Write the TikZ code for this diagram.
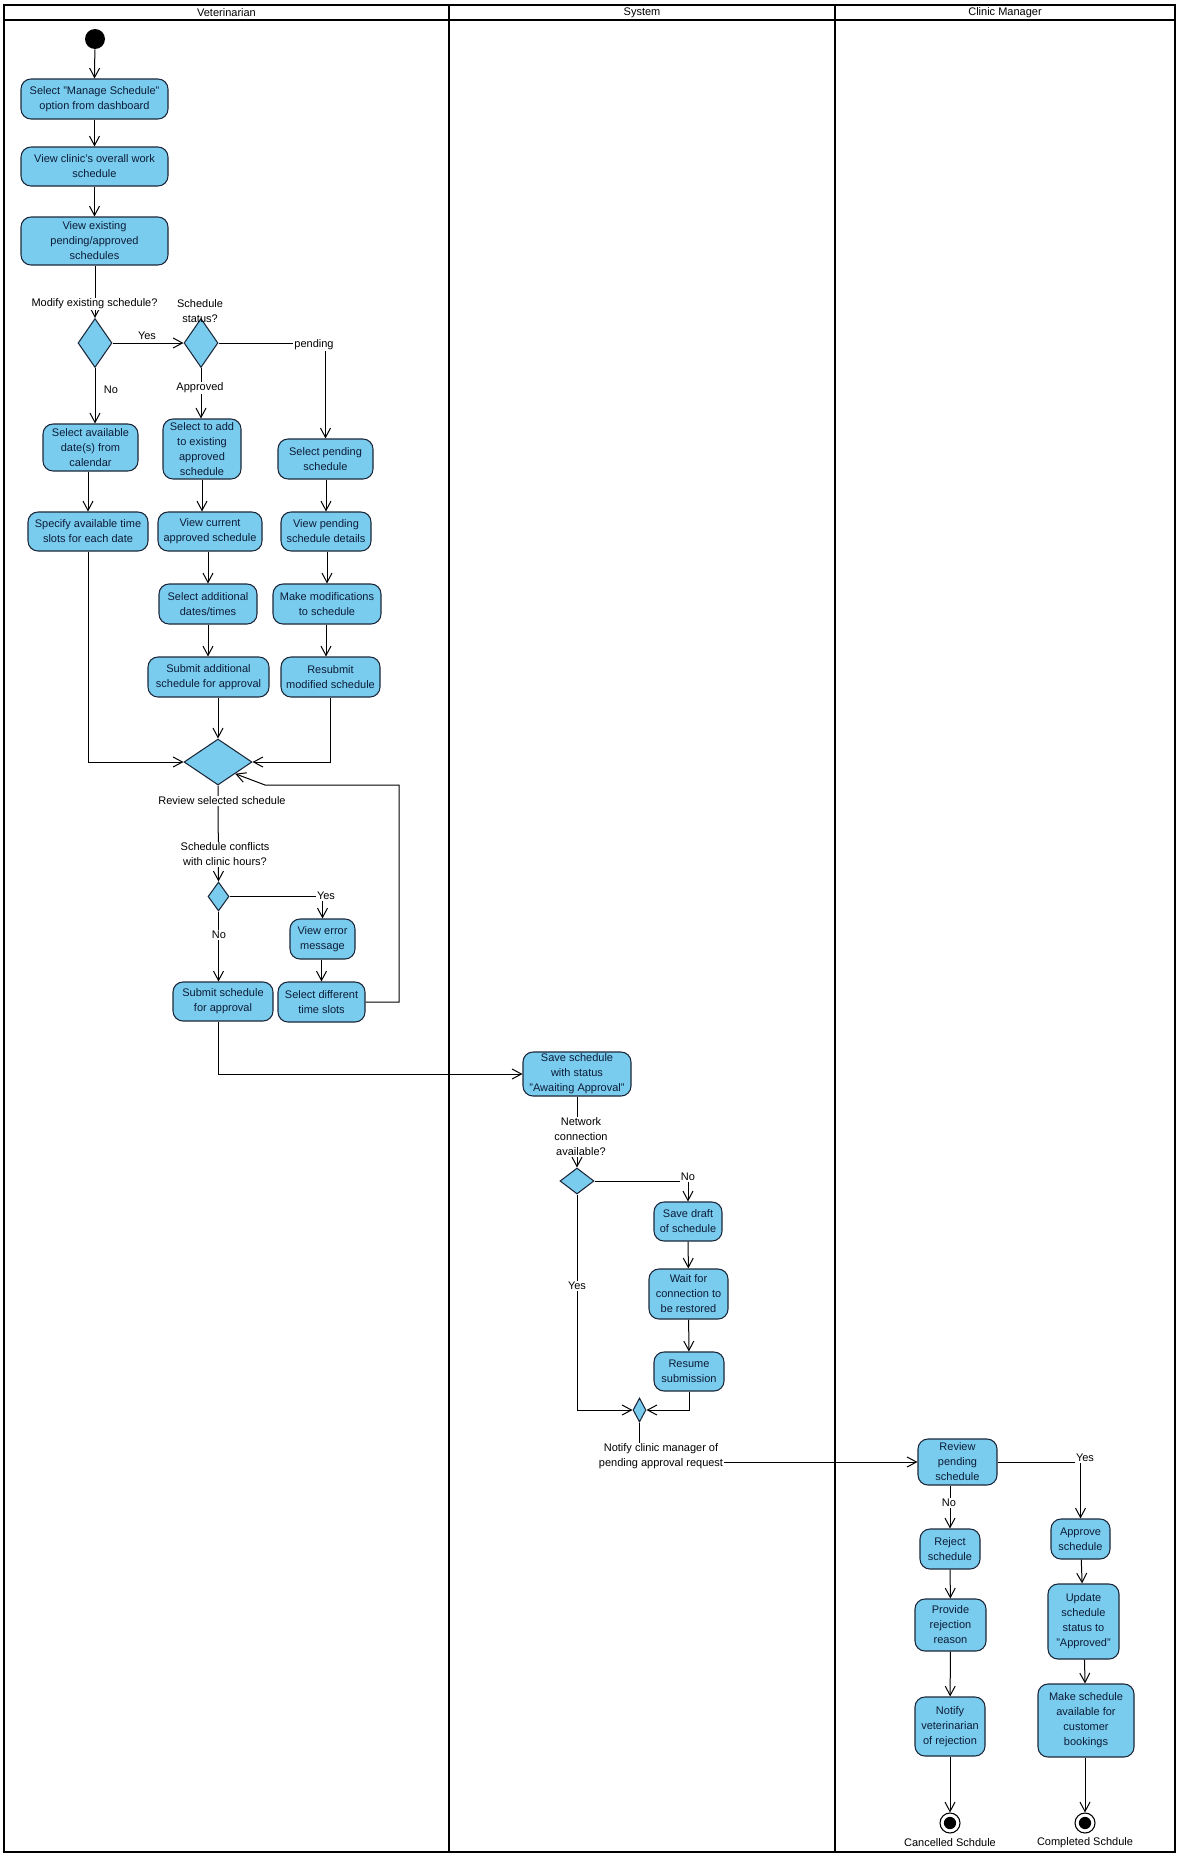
\documentclass[tikz,border=0pt]{standalone}
\usepackage{fontspec}
\setmainfont{Liberation Sans}
\usetikzlibrary{shapes.geometric,arrows.meta,calc}
\definecolor{actfill}{RGB}{122,204,238}
\definecolor{actdraw}{RGB}{28,40,58}
\definecolor{acttext}{RGB}{12,28,55}

\begin{document}
\begin{tikzpicture}[x=0.75pt,y=-0.75pt,
  every node/.style={font=\fontsize{8.25pt}{11.25pt}\selectfont},
  act/.style={draw=actdraw, fill=actfill, line width=0.8pt, rounded corners=7.5pt,
    align=center, inner sep=1pt, text=acttext},
  dec/.style={diamond, draw=actdraw, fill=actfill, line width=0.8pt, inner sep=0pt},
  startnode/.style={circle, fill=black, minimum size=15pt, inner sep=0pt},
  endnode/.style={circle, draw=black, line width=0.8pt, minimum size=15pt, inner sep=0pt,
    path picture={\fill[black] (path picture bounding box.center) circle (4.6pt);}},
  lbl/.style={fill=white, inner sep=1pt, align=center, text=black},
  lbln/.style={inner sep=1pt, align=center, text=black},
  flow/.style={draw=black, line width=0.75pt, -{Straight Barb[length=7pt,width=7.5pt]}},
  lanestyle/.style={line width=1.4pt}
]
\useasboundingbox (0,0) rectangle (1179,1856);
\fill[white] (0,0) rectangle (1179,1856);

% swimlanes
\draw[lanestyle] (4,5) rectangle (1175,1852);
\draw[lanestyle] (4,20) -- (1175,20);
\draw[lanestyle] (449,5) -- (449,1852);
\draw[lanestyle] (835,5) -- (835,1852);
\node (hvet) at (226.5,12.5) {Veterinarian};
\node (hsys) at (642,12.5) {System};
\node (hcm) at (1005,12.5) {Clinic Manager};

% ---------- Veterinarian ----------
\node[startnode] (init) at (95,39) {};
\node[act, minimum width=110.25pt, minimum height=30pt] (a1) at (94.5,99)
  {Select "Manage Schedule"\\option from dashboard};
\node[act, minimum width=110.25pt, minimum height=29.25pt] (a2) at (94.5,166.5)
  {View clinic's overall work\\schedule};
\node[act, minimum width=110.25pt, minimum height=36pt] (a3) at (94.5,241)
  {View existing\\pending/approved\\schedules};
\node[dec, minimum width=25.5pt, minimum height=36.75pt] (d1) at (95,343) {};
\node[dec, minimum width=25.5pt, minimum height=36.75pt] (d2) at (201,343) {};

\node[act, minimum width=71.25pt, minimum height=35.25pt] (b1) at (90.5,447.5)
  {Select available\\date(s) from\\calendar};
\node[act, minimum width=90pt, minimum height=29.25pt] (b2) at (88,531.5)
  {Specify available time\\slots for each date};

\node[act, minimum width=58.5pt, minimum height=45pt] (c1) at (202,449)
  {Select to add\\to existing\\approved\\schedule};
\node[act, minimum width=78pt, minimum height=29.25pt] (c2) at (210,531.5)
  {View current\\approved schedule};
\node[act, minimum width=73.5pt, minimum height=30pt] (c3) at (208,604)
  {Select additional\\dates/times};
\node[act, minimum width=90.75pt, minimum height=30pt] (c4) at (208.5,677)
  {Submit additional\\schedule for approval};

\node[act, minimum width=71.25pt, minimum height=30pt] (p1) at (325.5,459)
  {Select pending\\schedule};
\node[act, minimum width=67.5pt, minimum height=29.25pt] (p2) at (326,531.5)
  {View pending\\schedule details};
\node[act, minimum width=81pt, minimum height=30pt] (p3) at (327,604)
  {Make modifications\\to schedule};
\node[act, minimum width=74.25pt, minimum height=30pt] (p4) at (330.5,677)
  {Resubmit\\modified schedule};

\node[dec, minimum width=51pt, minimum height=34.5pt] (d3) at (218,762) {};
\node[dec, minimum width=15.75pt, minimum height=21.75pt] (d4) at (218.5,896.5) {};
\node[act, minimum width=48.75pt, minimum height=30pt] (ve) at (322.5,939)
  {View error\\message};
\node[act, minimum width=65.25pt, minimum height=30pt] (sd) at (321.5,1002)
  {Select different\\time slots};
\node[act, minimum width=75pt, minimum height=29.25pt] (sa) at (223,1001.5)
  {Submit schedule\\for approval};

% ---------- System ----------
\node[act, minimum width=81pt, minimum height=33pt] (ss) at (577,1074)
  {Save schedule\\with status\\"Awaiting Approval"};
\node[dec, minimum width=25.5pt, minimum height=19.5pt] (d5) at (577,1181) {};
\node[act, minimum width=51pt, minimum height=29.25pt] (sdr) at (688,1221.5)
  {Save draft\\of schedule};
\node[act, minimum width=59.25pt, minimum height=37.5pt] (wc) at (688.5,1294)
  {Wait for\\connection to\\be restored};
\node[act, minimum width=52.5pt, minimum height=29.25pt] (rs) at (689,1371.5)
  {Resume\\submission};
\node[dec, minimum width=9.75pt, minimum height=18pt] (m1) at (639.5,1410) {};

% ---------- Clinic Manager ----------
\node[act, minimum width=59.25pt, minimum height=34.5pt] (rp) at (957.5,1462)
  {Review\\pending\\schedule};
\node[act, minimum width=45pt, minimum height=30pt] (rj) at (950,1549)
  {Reject\\schedule};
\node[act, minimum width=53.25pt, minimum height=39pt] (pr) at (950.5,1625)
  {Provide\\rejection\\reason};
\node[act, minimum width=52.5pt, minimum height=44.25pt] (nv) at (950,1726.5)
  {Notify\\veterinarian\\of rejection};
\node[act, minimum width=44.25pt, minimum height=30pt] (ap) at (1080.5,1539)
  {Approve\\schedule};
\node[act, minimum width=53.25pt, minimum height=56.25pt] (us) at (1083.5,1621.5)
  {Update\\schedule\\status to\\"Approved"};
\node[act, minimum width=72pt, minimum height=54.75pt] (ms) at (1086,1720.5)
  {Make schedule\\available for\\customer\\bookings};
\node[endnode] (f1) at (950,1823) {};
\node[endnode] (f2) at (1085,1823) {};
\node (f1lbl) at (950,1843) {Cancelled Schdule};
\node (f2lbl) at (1085,1843) {Completed Schdule};

% ---------- control flows ----------
\draw[flow] (init) -- (a1.north);
\draw[flow] (a1) -- (a2);
\draw[flow] (a2) -- (a3);
\draw[flow] (d1.north |- a3.south) -- (d1.north);
\draw[flow] (d1.east) -- (d2.west);
\draw[flow] (d1.south) -- (d1.south |- b1.north);
\draw[flow] (d2.east) -| (p1.north);
\draw[flow] (d2.south) -- (d2.south |- c1.north);
\draw[flow] (b1.south -| b2.north) -- (b2.north);
\draw[flow] (c1.south) -- (c1.south |- c2.north);
\draw[flow] (c2.south -| c3.north) -- (c3.north);
\draw[flow] (c3.south) -- (c3.south |- c4.north);
\draw[flow] (p1.south -| p2.north) -- (p2.north);
\draw[flow] (p2.south -| p3.north) -- (p3.north);
\draw[flow] (p3.south -| p2.north) -- (p2.north |- p4.north);
\draw[flow] (b2.south) |- (d3.west);
\draw[flow] (c4.south -| d3.north) -- (d3.north);
\draw[flow] (p4.south) |- (d3.east);
\coordinate (loopa) at (399,785);
\coordinate (loopb) at (265,785);
\draw[flow] (sd.east) -| (loopa) -- (loopb) -- ($(d3.east)!0.5!(d3.south)$);
\draw[flow] (d3.south) -- (d4.north);
\draw[flow] (d4.east) -| (ve.north);
\draw[flow] (d4.south) -- (d4.south |- sa.north);
\draw[flow] (ve.south -| sd.north) -- (sd.north);
\draw[flow] (sa.south -| d4.south) |- (ss.west);
\draw[flow] (ss.south) -- (d5.north);
\draw[flow] (d5.east) -| (sdr.north);
\draw[flow] (d5.south) |- (m1.west);
\draw[flow] (sdr) -- (wc);
\draw[flow] (wc) -- (rs);
\draw[flow] (rs.south) |- (m1.east);
\draw[flow] (m1.south) |- (rp.west);
\draw[flow] (rj.north |- rp.south) -- (rj.north);
\draw[flow] (rp.east) -| (ap.north);
\draw[flow] (rj) -- (pr);
\draw[flow] (pr) -- (nv);
\draw[flow] (nv) -- (f1);
\draw[flow] (ap) -- (us);
\draw[flow] (us) -- (ms);
\draw[flow] (ms.south -| f2) -- (f2);

% ---------- names and guards ----------
\node[lbl] (d1name) at (94.5,304) {Modify existing schedule?};
\node[lbln] (d2name) at (200,311.5) {Schedule\\status?};
\node[lbln] (gyes1) at (147,336) {Yes};
\node[lbln] (gno1) at (111,390) {No};
\node[lbl] (gpend) at (314,345) {pending};
\node[lbl] (gappr) at (200,388) {Approved};
\node[lbl] (d3name) at (222,801) {Review selected schedule};
\node[lbl] (d4name) at (225,854.5) {Schedule conflicts\\with clinic hours?};
\node[lbl] (gyes2) at (326,896) {Yes};
\node[lbl] (gno2) at (219,935) {No};
\node[lbl] (d5name) at (581,1137) {Network\\connection\\available?};
\node[lbl] (gno3) at (688,1177) {No};
\node[lbl] (gyes3) at (577,1286) {Yes};
\node[lbl] (m1name) at (661,1456.5) {Notify clinic manager of\\pending approval request};
\node[lbl] (gno4) at (949,1503) {No};
\node[lbl] (gyes4) at (1085,1458) {Yes};
\end{tikzpicture}
\end{document}
